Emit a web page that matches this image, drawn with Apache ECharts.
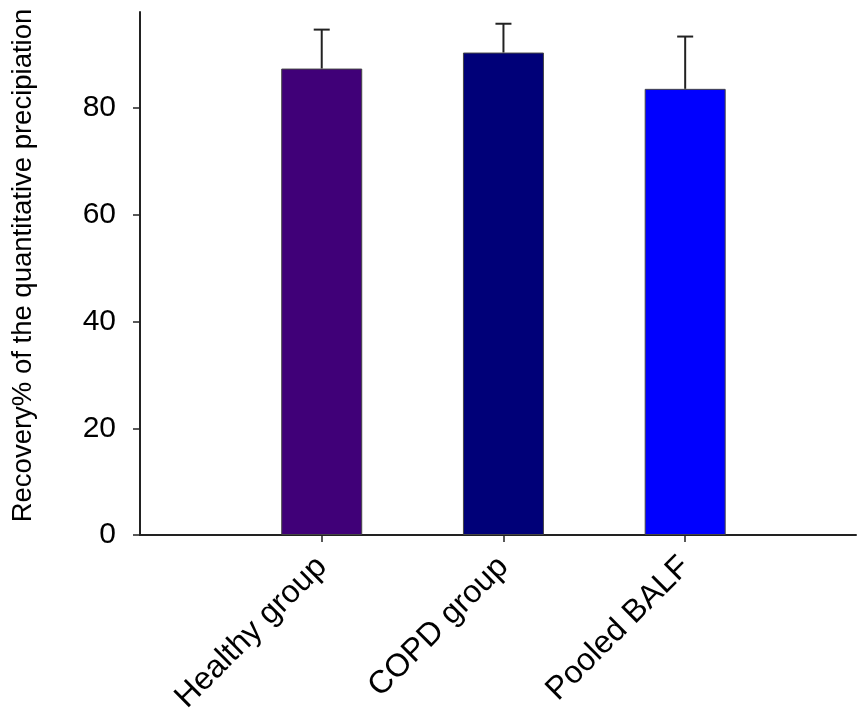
<!DOCTYPE html>
<html>
<head>
<meta charset="utf-8">
<script src="https://cdn.jsdelivr.net/npm/echarts@6/dist/echarts.min.js"></script>
<style>
  html, body { margin: 0; padding: 0; background: #fff; }
  #chart { width: 857px; height: 715px; }
</style>
</head>
<body>
<div id="chart"></div>
<script>
// groups and read-off values
const categories = ['Healthy group', 'COPD group', 'Pooled BALF'];
const positions = [1, 2, 3];
const recovery = [87.4, 90.4, 83.6];
const upperError = [94.7, 95.8, 93.4];
const barColors = ['#400078', '#000078', '#0000ff'];
const yTicks = [0, 20, 40, 60, 80];

const chart = echarts.init(document.getElementById('chart'));

const barData = positions.map((p, i) => ({
  value: [p, recovery[i]],
  itemStyle: { color: barColors[i] }
}));
const errData = positions.map((p, i) => [p, recovery[i], upperError[i]]);

chart.setOption({
  animation: false,
  textStyle: { fontFamily: 'Liberation Sans, Arial, sans-serif' },
  grid: { left: 140, top: 12, right: 1, bottom: 180, outerBoundsMode: 'none' },
  xAxis: {
    type: 'value',
    min: 0,
    max: 3.94,
    interval: 1,
    splitLine: { show: false },
    axisLine: { lineStyle: { color: '#222', width: 2 } },
    axisTick: {
      show: true, length: 7, inside: false,
      lineStyle: { color: '#222', width: 1.5 },
      customValues: positions
    },
    axisLabel: {
      rotate: 45,
      fontSize: 32,
      color: '#000',
      margin: 27,
      customValues: positions,
      formatter: v => categories[positions.indexOf(v)] || ''
    }
  },
  yAxis: {
    type: 'value',
    min: 0,
    max: 98,
    interval: 20,
    name: 'Recovery% of the quantitative precipiation',
    nameLocation: 'middle',
    nameGap: 103,
    nameTextStyle: { fontSize: 27.5, color: '#000', padding: [0, 0, 0, 16] },
    splitLine: { show: false },
    axisLine: { show: true, lineStyle: { color: '#222', width: 2 } },
    axisTick: {
      show: true, length: 7,
      lineStyle: { color: '#222', width: 1.5 },
      customValues: yTicks
    },
    axisLabel: {
      fontSize: 30,
      color: '#000',
      margin: 24,
      customValues: yTicks
    }
  },
  series: [
    {
      type: 'bar',
      barWidth: 81,
      data: barData,
      itemStyle: { borderColor: '#444', borderWidth: 1 }
    },
    {
      type: 'custom',
      data: errData,
      z: 1,
      renderItem: function (params, api) {
        const top = api.coord([api.value(0), api.value(2)]);
        const base = api.coord([api.value(0), api.value(1)]);
        const half = 8;
        const style = { stroke: '#222', lineWidth: 2 };
        return {
          type: 'group',
          children: [
            { type: 'line', shape: { x1: top[0], y1: base[1], x2: top[0], y2: top[1] }, style: style },
            { type: 'line', shape: { x1: top[0] - half, y1: top[1], x2: top[0] + half, y2: top[1] }, style: style }
          ]
        };
      }
    }
  ]
});
</script>
</body>
</html>
